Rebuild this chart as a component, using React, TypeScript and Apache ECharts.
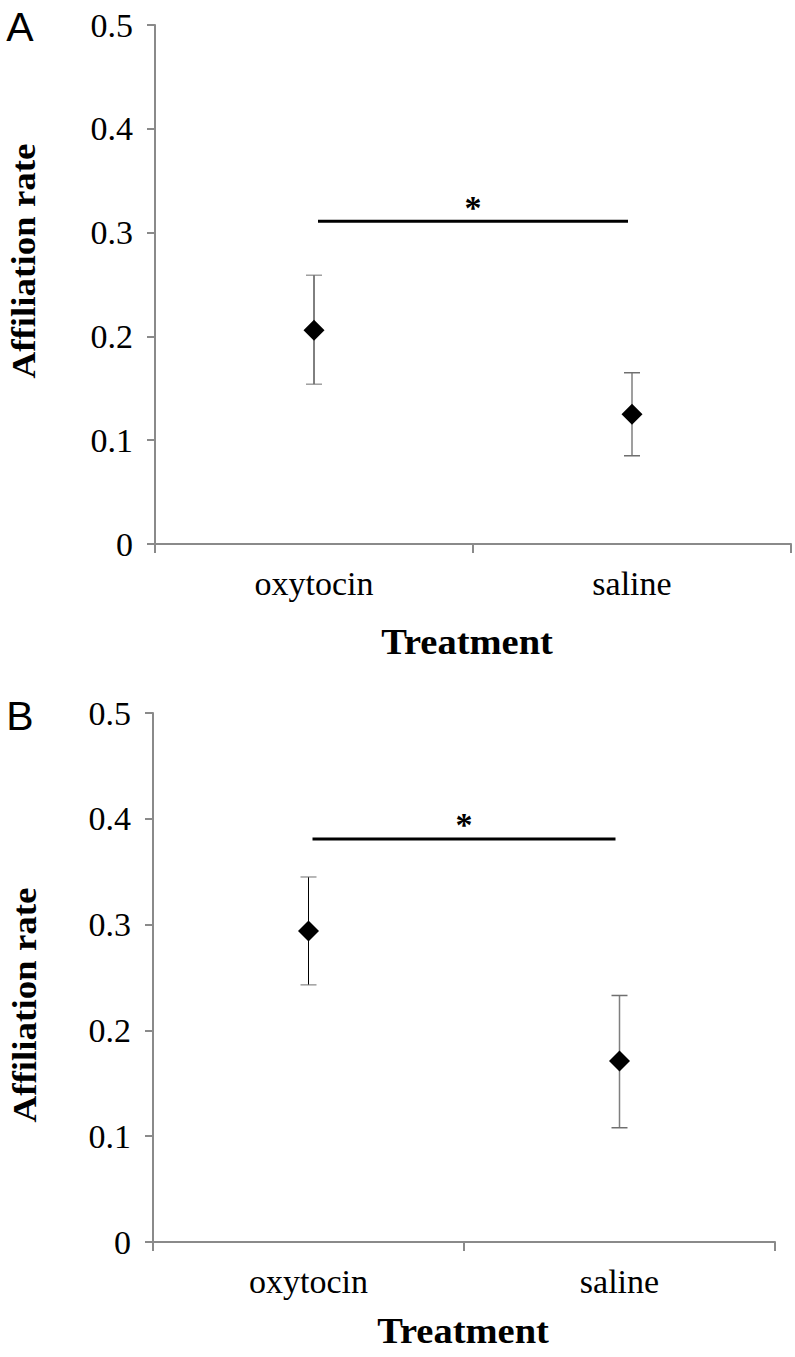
import React, { useEffect, useRef } from "react";
import * as echarts from "echarts";

const categories = ["oxytocin", "saline"];
const meanA = [0.206, 0.125];
const upperA = [0.259, 0.165];
const lowerA = [0.154, 0.085];
const sigA = 0.311;
const meanB = [0.294, 0.171];
const upperB = [0.345, 0.233];
const lowerB = [0.243, 0.108];
const sigB = 0.381;
const yMin = 0;
const yMax = 0.5;
const yStep = 0.1;

const SERIF = "'Liberation Serif', 'Times New Roman', serif";
const SANS = "'Liberation Sans', Arial, sans-serif";
const AXIS = "#8a8a8a";
const barColors = ["#000000", "#7f7f7f"];
const barWidths = [1, 1.5];

function errRender(params: any, api: any) {
  const x = api.value(0);
  const lo = api.coord([x, api.value(1)]);
  const hi = api.coord([x, api.value(2)]);
  const i = params.dataIndex;
  const style = { stroke: barColors[i], lineWidth: barWidths[i] };
  const hw = 8;
  return {
    type: "group",
    children: [
      { type: "line", shape: { x1: lo[0], y1: lo[1], x2: hi[0], y2: hi[1] }, style },
      { type: "line", shape: { x1: hi[0] - hw, y1: hi[1], x2: hi[0] + hw, y2: hi[1] }, style: { ...style, stroke: "#6f6f6f" } },
      { type: "line", shape: { x1: lo[0] - hw, y1: lo[1], x2: lo[0] + hw, y2: lo[1] }, style: { ...style, stroke: "#6f6f6f" } },
    ],
  };
}

function sigRender(params: any, api: any) {
  const p0 = api.coord([api.value(0), api.value(2)]);
  const p1 = api.coord([api.value(1), api.value(2)]);
  const mx = (p0[0] + p1[0]) / 2;
  return {
    type: "group",
    children: [
      {
        type: "line",
        shape: { x1: p0[0] + 4, y1: p0[1], x2: p1[0] - 4, y2: p1[1] },
        style: { stroke: "#000", lineWidth: 3 },
      },
      {
        type: "text",
        x: mx,
        y: p0[1] + 3,
        style: {
          text: "*",
          fill: "#000",
          font: `bold 34px ${SERIF}`,
          align: "center",
          verticalAlign: "bottom",
        },
      },
    ],
  };
}

function makeAxes(gridIndex: number) {
  const xAxis = {
    type: "category",
    gridIndex,
    data: categories,
    boundaryGap: true,
    axisLine: { lineStyle: { color: AXIS, width: 2 } },
    axisTick: { show: true, length: 9, lineStyle: { color: AXIS, width: 2 } },
    axisLabel: { color: "#000", fontFamily: SERIF, fontSize: 34, margin: 22 },
    splitLine: { show: false },
  };
  const yAxis = {
    type: "value",
    gridIndex,
    min: yMin,
    max: yMax,
    interval: yStep,
    axisLine: { show: true, lineStyle: { color: AXIS, width: 2 } },
    axisTick: { show: true, length: 8, lineStyle: { color: AXIS, width: 2 } },
    axisLabel: { color: "#000", fontFamily: SERIF, fontSize: 34, margin: 22 },
    splitLine: { show: false },
  };
  return { xAxis, yAxis };
}

export default function App() {
  const ref = useRef<HTMLDivElement>(null);
  useEffect(() => {
    if (!ref.current) return;
    const chart = echarts.init(ref.current, null, { renderer: "svg" });
    const a = makeAxes(0);
    const b = makeAxes(1);
    const panels = [
      { mean: meanA, upper: upperA, lower: lowerA, sig: sigA },
      { mean: meanB, upper: upperB, lower: lowerB, sig: sigB },
    ];
    const series: any[] = [];
    panels.forEach((p, gi) => {
      series.push({
        type: "custom",
        xAxisIndex: gi,
        yAxisIndex: gi,
        renderItem: errRender,
        data: categories.map((_, i) => [i, p.lower[i], p.upper[i]]),
        z: 2,
      });
      series.push({
        type: "scatter",
        xAxisIndex: gi,
        yAxisIndex: gi,
        symbol: "diamond",
        symbolSize: 21,
        itemStyle: { color: "#000", opacity: 1 },
        data: categories.map((_, i) => [i, p.mean[i]]),
        z: 3,
      });
      series.push({
        type: "custom",
        xAxisIndex: gi,
        yAxisIndex: gi,
        renderItem: sigRender,
        data: [[0, 1, p.sig]],
        z: 3,
      });
    });
    const yName = (x: number, y: number) => ({
      type: "text",
      x,
      y,
      rotation: Math.PI / 2,
      scaleX: 1.12,
      style: { text: "Affiliation rate", font: `bold 33px ${SERIF}`, fill: "#000", align: "center", verticalAlign: "middle" },
    });
    const xName = (x: number, y: number) => ({
      type: "text",
      x,
      y,
      scaleX: 1.1,
      style: { text: "Treatment", font: `bold 35px ${SERIF}`, fill: "#000", align: "center", verticalAlign: "middle" },
    });
    chart.setOption({
      animation: false,
      backgroundColor: "#fff",
      grid: [
        { left: 155, top: 25, width: 636, height: 519 },
        { left: 153, top: 713, width: 622, height: 529 },
      ],
      xAxis: [a.xAxis, b.xAxis],
      yAxis: [a.yAxis, b.yAxis],
      series,
      graphic: [
        { type: "text", x: 20, y: 27, style: { text: "A", font: `41px ${SANS}`, fill: "#000", align: "center", verticalAlign: "middle" } },
        { type: "text", x: 20, y: 716, style: { text: "B", font: `41px ${SANS}`, fill: "#000", align: "center", verticalAlign: "middle" } },
        yName(24, 261),
        yName(25, 1005),
        xName(467, 642),
        xName(463, 1331),
      ],
    });
    return () => chart.dispose();
  }, []);
  return (
    <div
      ref={ref}
      style={{ position: "absolute", left: 0, top: 0, width: 795, height: 1357 }}
    />
  );
}
